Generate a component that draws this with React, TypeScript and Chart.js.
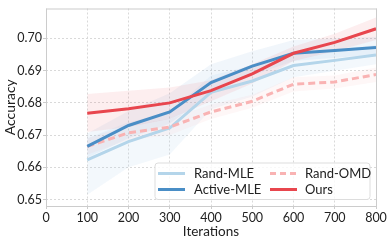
import React, { useEffect, useRef } from "react";
import { Chart, registerables } from "chart.js";

Chart.register(...registerables);

const iterations = [100, 200, 300, 400, 500, 600, 700, 800];
const xTicks = [0, 100, 200, 300, 400, 500, 600, 700, 800];
const yTicks = [0.65, 0.66, 0.67, 0.68, 0.69, 0.7];

const randMle = [0.6623, 0.668, 0.6722, 0.6833, 0.6868, 0.6916, 0.6932, 0.6949];
const randMleUpper = [0.669, 0.674, 0.677, 0.6885, 0.6915, 0.6955, 0.6965, 0.698];
const randMleLower = [0.6515, 0.66, 0.664, 0.678, 0.682, 0.688, 0.69, 0.692];

const activeMle = [0.6665, 0.673, 0.6772, 0.6863, 0.6914, 0.6954, 0.6963, 0.6972];
const activeMleUpper = [0.6705, 0.6775, 0.683, 0.692, 0.696, 0.6995, 0.7, 0.7005];
const activeMleLower = [0.663, 0.669, 0.6735, 0.683, 0.6885, 0.693, 0.694, 0.695];

const randOmd = [0.6665, 0.6707, 0.6725, 0.6772, 0.6805, 0.6858, 0.6865, 0.6888];
const randOmdUpper = [0.669, 0.673, 0.675, 0.6795, 0.6825, 0.688, 0.6885, 0.691];
const randOmdLower = [0.664, 0.6685, 0.67, 0.675, 0.6785, 0.6835, 0.6845, 0.6865];

const ours = [0.6768, 0.6782, 0.68, 0.6838, 0.689, 0.6954, 0.6988, 0.703];
const oursUpper = [0.6828, 0.6838, 0.6848, 0.687, 0.692, 0.6975, 0.7015, 0.7065];
const oursLower = [0.671, 0.6725, 0.675, 0.6805, 0.686, 0.693, 0.696, 0.6995];

const C_RAND_MLE = "#b4d5ea";
const C_ACTIVE = "#4a8ec6";
const C_OMD = "#f9b3b3";
const C_OURS = "#e8464e";

const FONT = "Lato, 'Open Sans', sans-serif";

function pts(vals: number[]) {
  return vals.map((v, i) => ({ x: iterations[i], y: v }));
}

const legendItems = [
  { label: "Rand-MLE", color: C_RAND_MLE, dash: [] as number[], col: 0, row: 0 },
  { label: "Active-MLE", color: C_ACTIVE, dash: [] as number[], col: 0, row: 1 },
  { label: "Rand-OMD", color: C_OMD, dash: [6, 4], col: 1, row: 0 },
  { label: "Ours", color: C_OURS, dash: [] as number[], col: 1, row: 1 },
];

const framePlugin = {
  id: "frame",
  beforeDatasetsDraw(chart: any) {
    const { ctx, chartArea: a } = chart;
    ctx.save();
    ctx.strokeStyle = "#cccccc";
    ctx.lineWidth = 1;
    ctx.setLineDash([]);
    ctx.strokeRect(a.left + 0.5, a.top + 0.5, a.right - a.left, a.bottom - a.top);
    ctx.restore();
  },
  afterDraw(chart: any) {
    const { ctx } = chart;
    const boxRight = 370;
    const boxLeft = 155;
    const boxTop = 163;
    const boxBottom = 199.5;
    ctx.save();
    ctx.fillStyle = "rgba(255,255,255,0.8)";
    ctx.strokeStyle = "#dddddd";
    ctx.lineWidth = 1;
    const r = 3;
    ctx.beginPath();
    ctx.moveTo(boxLeft + r, boxTop);
    ctx.lineTo(boxRight - r, boxTop);
    ctx.quadraticCurveTo(boxRight, boxTop, boxRight, boxTop + r);
    ctx.lineTo(boxRight, boxBottom - r);
    ctx.quadraticCurveTo(boxRight, boxBottom, boxRight - r, boxBottom);
    ctx.lineTo(boxLeft + r, boxBottom);
    ctx.quadraticCurveTo(boxLeft, boxBottom, boxLeft, boxBottom - r);
    ctx.lineTo(boxLeft, boxTop + r);
    ctx.quadraticCurveTo(boxLeft, boxTop, boxLeft + r, boxTop);
    ctx.closePath();
    ctx.fill();
    ctx.stroke();
    ctx.font = `13px ${FONT}`;
    ctx.textBaseline = "middle";
    ctx.fillStyle = "#222222";
    const colX = [158, 270];
    const rowY = [173.5, 189.5];
    for (const it of legendItems) {
      const x = colX[it.col];
      const y = rowY[it.row];
      ctx.strokeStyle = it.color;
      ctx.lineWidth = 3;
      ctx.setLineDash(it.dash);
      ctx.beginPath();
      ctx.moveTo(x, y);
      ctx.lineTo(x + 27, y);
      ctx.stroke();
      ctx.setLineDash([]);
      ctx.fillText(it.label, it.col === 0 ? 194 : 305, y);
    }
    ctx.restore();
  },
};

export default function App() {
  const ref = useRef<HTMLCanvasElement | null>(null);
  useEffect(() => {
    if (!ref.current) return;
    const upperDs = (upper: number[], color: string, lowerIndex: number) => ({
      label: "_upper",
      data: pts(upper),
      borderWidth: 0,
      pointRadius: 0,
      backgroundColor: color,
      fill: lowerIndex,
    });
    const lowerDs = (lower: number[]) => ({
      label: "_lower",
      data: pts(lower),
      borderWidth: 0,
      pointRadius: 0,
      fill: false,
    });
    const lineDs = (label: string, vals: number[], color: string, dash: number[] = []) => ({
      label,
      data: pts(vals),
      borderColor: color,
      borderWidth: 3,
      borderDash: dash,
      pointRadius: 0,
      fill: false,
      tension: 0,
    });
    const datasets: any[] = [
      lineDs("Ours", ours, C_OURS),
      lineDs("Active-MLE", activeMle, C_ACTIVE),
      lineDs("Rand-OMD", randOmd, C_OMD, [7, 4]),
      lineDs("Rand-MLE", randMle, C_RAND_MLE),
      upperDs(oursUpper, "rgba(232,70,78,0.09)", 5),
      lowerDs(oursLower),
      upperDs(activeMleUpper, "rgba(74,142,198,0.08)", 7),
      lowerDs(activeMleLower),
      upperDs(randOmdUpper, "rgba(249,179,179,0.10)", 9),
      lowerDs(randOmdLower),
      upperDs(randMleUpper, "rgba(180,213,234,0.16)", 11),
      lowerDs(randMleLower),
    ];
    const chart = new Chart(ref.current, {
      type: "line",
      data: { datasets },
      plugins: [framePlugin],
      options: {
        animation: false,
        responsive: false,
        maintainAspectRatio: false,
        layout: { padding: { top: 4, right: 14, left: 0, bottom: 0 } },
        plugins: {
          legend: { display: false },
          tooltip: { enabled: false },
        },
        scales: {
          x: {
            type: "linear",
            min: 0,
            max: 800,
            afterBuildTicks: (s: any) => {
              s.ticks = xTicks.map((v) => ({ value: v }));
            },
            afterFit: (s: any) => {
              s.height = 35;
            },
            ticks: {
              font: { family: FONT, size: 12.5 },
              color: "#222222",
              padding: 1,
              maxRotation: 0,
            },
            grid: { color: "#d9d9d9", tickLength: 3, tickColor: "#cccccc", tickBorderDash: [] },
            border: { display: false, dash: [2, 2] },
            title: {
              display: true,
              text: "Iterations",
              font: { family: FONT, size: 13.5 },
              color: "#222222",
              padding: { top: 2, bottom: 1 },
            },
          },
          y: {
            type: "linear",
            min: 0.648,
            max: 0.7093,
            afterBuildTicks: (s: any) => {
              s.ticks = yTicks.map((v) => ({ value: v }));
            },
            afterFit: (s: any) => {
              s.width = 46;
            },
            ticks: {
              font: { family: FONT, size: 12.5 },
              color: "#222222",
              padding: 1,
              callback: (v: any) => Number(v).toFixed(2),
            },
            grid: { color: "#d9d9d9", tickLength: 3, tickColor: "#cccccc", tickBorderDash: [] },
            border: { display: false, dash: [2, 2] },
            title: {
              display: true,
              text: "Accuracy",
              font: { family: FONT, size: 14 },
              color: "#222222",
              padding: { top: 2, bottom: 2 },
            },
          },
        },
      },
    });
    return () => chart.destroy();
  }, []);
  return (
    <div style={{ position: "fixed", left: 0, top: 0, width: 390, height: 241, background: "#fff" }}>
      <canvas ref={ref} width={390} height={241} style={{ width: 390, height: 241 }} />
    </div>
  );
}
